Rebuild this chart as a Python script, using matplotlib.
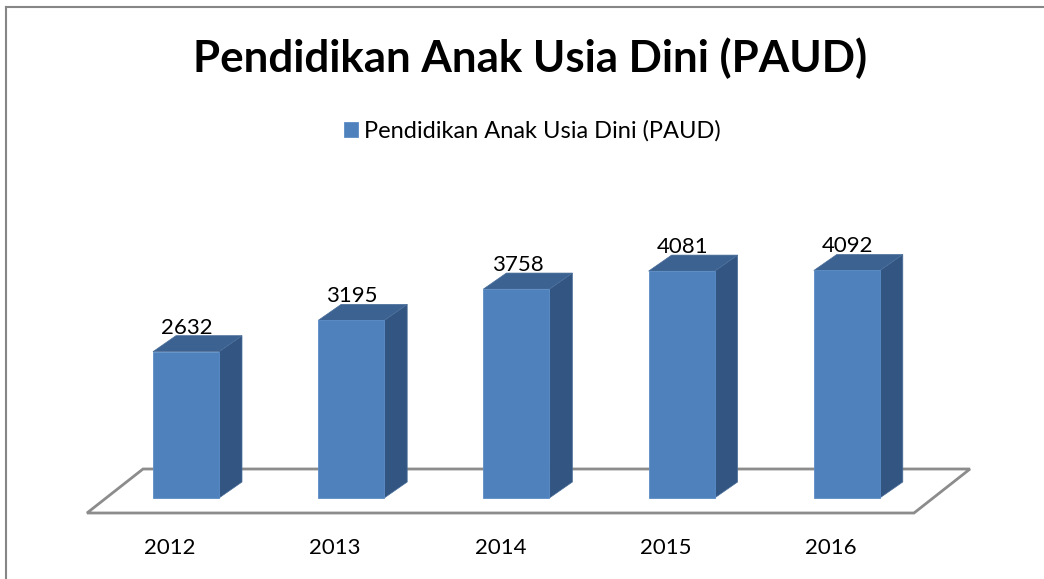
import matplotlib
matplotlib.use("Agg")
import matplotlib.pyplot as plt
from matplotlib.patches import Polygon
from matplotlib.lines import Line2D

# data
years = ["2012", "2013", "2014", "2015", "2016"]
values = [2632, 3195, 3758, 4081, 4092]
series_name = "Pendidikan Anak Usia Dini (PAUD)"
title = "Pendidikan Anak Usia Dini (PAUD)"

front_color = "#4F81BD"
top_color = "#3C6291"
side_color = "#325581"
floor_color = "#8C8C8C"

W, H = 1044, 579
fig = plt.figure(figsize=(W / 100, H / 100), dpi=100)
ax = fig.add_axes([0, 0, 1, 1])

# pixel scale: one category = 165.2 px, one unit = 0.0556 px
px_x = 165.2
px_y = 0.0556
ax.set_xlim(-186 / px_x, (W - 186) / px_x)
ax.set_ylim(-81 / px_y, (H - 81) / px_y)
ax.axis("off")

# 3d depth offsets of the bars and floor
bar_w = 66 / px_x
dx, dy = 23 / px_x, 16 / px_y
fl_front, fl_back = -15 / px_y, 29 / px_y
fl_left, fl_right = -99 / px_x, 728 / px_x
fl_dx = 56 / px_x

floor = Polygon(
    [(fl_left, fl_front), (fl_right, fl_front),
     (fl_right + fl_dx, fl_back), (fl_left + fl_dx, fl_back)],
    closed=True, facecolor="white", edgecolor=floor_color, lw=2, zorder=1)
ax.add_patch(floor)

xs = list(range(len(values)))
bars = ax.bar(xs, values, width=bar_w, color=front_color,
              edgecolor="#5B8CC6", lw=0.6, zorder=4, label=series_name)

for x, v in zip(xs, values):
    left, right = x - bar_w / 2, x + bar_w / 2
    side = Polygon([(right, 0), (right + dx, dy), (right + dx, v + dy), (right, v)],
                   closed=True, facecolor=side_color, edgecolor="#4A6E9A", lw=0.5, zorder=3)
    top = Polygon([(left, v), (right, v), (right + dx, v + dy), (left + dx, v + dy)],
                  closed=True, facecolor=top_color, edgecolor="#4A6E9A", lw=0.5, zorder=3)
    ax.add_patch(side)
    ax.add_patch(top)
    ax.text(x + 1 / px_x, v + 18 / px_y, str(v), ha="center", va="baseline",
            fontsize=16, family="Lato", zorder=5)

for x, yr in zip(xs, years):
    ax.text(x - 16 / px_x, -50 / px_y, yr, ha="center", va="center",
            fontsize=16, family="Lato")

fig.text(530 / W, 1 - 58 / H, title, ha="center", va="center",
         fontsize=31.6, fontweight="bold", family="Lato")

leg = ax.legend(handles=[bars], loc="center", bbox_to_anchor=(532 / W, 1 - 131 / H),
                frameon=False, prop={"family": "Lato", "size": 17},
                handlelength=0.6, handleheight=0.6, handletextpad=0.25)

# chart border (top and left)
fig.add_artist(Line2D([6 / W, 6 / W], [0, 1 - 7 / H], color="#868686", lw=1.5))
fig.add_artist(Line2D([6 / W, 1], [1 - 7 / H, 1 - 7 / H], color="#868686", lw=1.5))

fig.savefig("out.png", dpi=100)
